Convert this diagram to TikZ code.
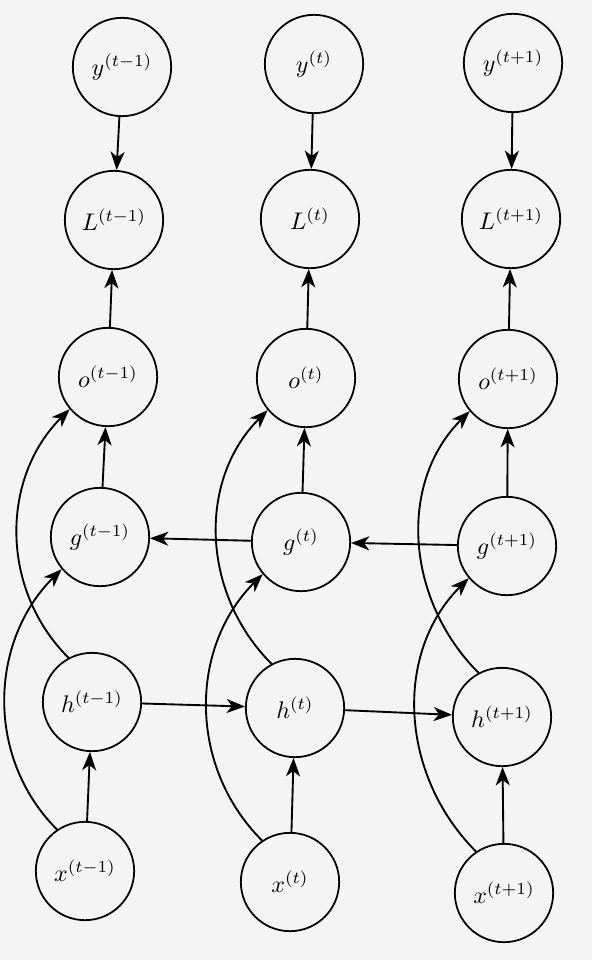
\documentclass[tikz,border=0pt]{standalone}
\usepackage{tikz}
\usetikzlibrary{arrows.meta,positioning}

\begin{document}
\begin{tikzpicture}[x=0.03cm,y=-0.03cm,
    unit/.style={draw,circle,line width=1.5pt,minimum size=2.95cm,inner sep=0pt},
    conn/.style={-{Stealth[length=5.5mm,width=4.2mm,inset=1.6mm]},line width=1.6pt}]
  \useasboundingbox (0,0) rectangle (592,960);
  \fill[gray!9] (0,0) rectangle (592,960);
  \foreach \nm/\lbl/\px/\py in {y1/{y^{(t-1)}}/122/67, L1/{L^{(t-1)}}/114/220, o1/{o^{(t-1)}}/108/377,
      g1/{g^{(t-1)}}/100/537, h1/{h^{(t-1)}}/92/702, x1/{x^{(t-1)}}/85/871,
      y2/{y^{(t)}}/314/64, L2/{L^{(t)}}/310/219, o2/{o^{(t)}}/306/378,
      g2/{g^{(t)}}/301/542, h2/{h^{(t)}}/295/708, x2/{x^{(t)}}/290/882,
      y3/{y^{(t+1)}}/513/63, L3/{L^{(t+1)}}/511/219, o3/{o^{(t+1)}}/508/379,
      g3/{g^{(t+1)}}/507/546, h3/{h^{(t+1)}}/502/717, x3/{x^{(t+1)}}/504/893}
    \node[unit](\nm) at (\px,\py) {\scalebox{2.05}{$\lbl$}};

  \foreach \c in {1,2,3} {
    \draw[conn] (y\c) -- (L\c);
    \draw[conn] (o\c) -- (L\c);
    \draw[conn] (g\c) -- (o\c);
    \draw[conn] (x\c) -- (h\c);
    \draw[conn] (h\c.118) to[out=135,in=225] (o\c.220);
    \draw[conn] (x\c.124) to[out=135,in=225] (g\c.220);
  }
  \draw[conn] (h1) -- (h2);
  \draw[conn] (h2) -- (h3);
  \draw[conn] (g2) -- (g1);
  \draw[conn] (g3) -- (g2);
\end{tikzpicture}
\end{document}
